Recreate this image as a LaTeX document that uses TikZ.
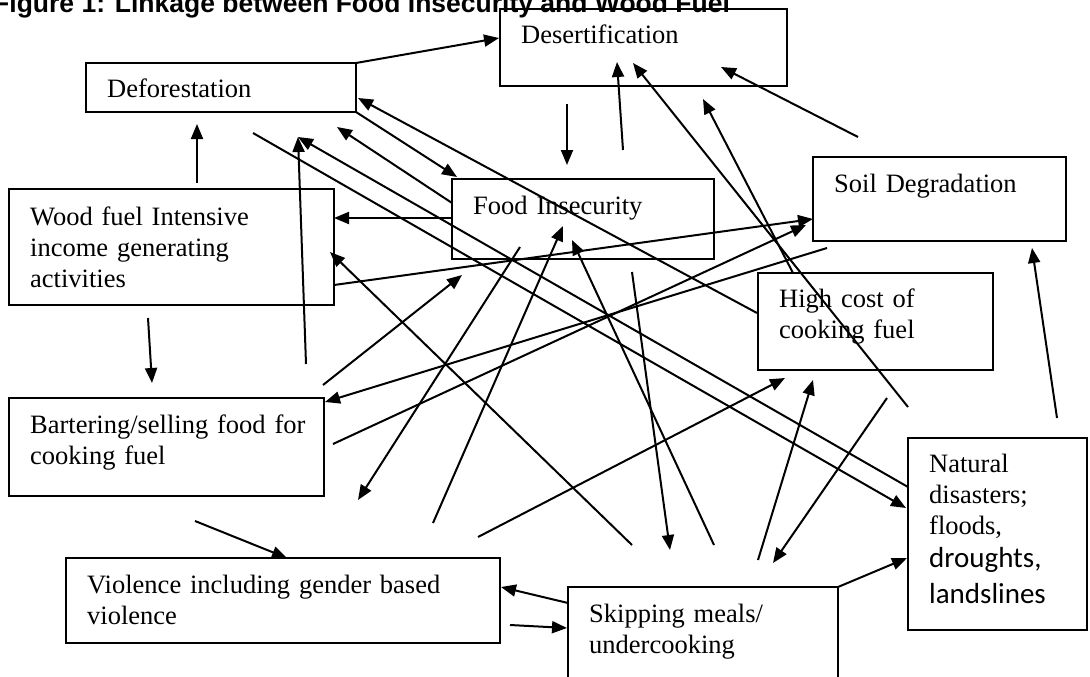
\documentclass[tikz,border=0pt]{standalone}
\usepackage{fontspec}
\setmainfont{Liberation Serif}
\setsansfont{Liberation Sans}
\newfontfamily\calibfont{Carlito}
\usetikzlibrary{arrows.meta}
\begin{document}
\begin{tikzpicture}[x=1pt,y=-1pt,
  box/.style={draw, line width=1.8pt, rectangle, anchor=north west, inner sep=0pt, outer sep=0pt},
  lbl/.style={anchor=base west, inner sep=0pt, text width=400pt, align=left, font=\fontsize{26.5}{31}\selectfont},
  conn/.style={line width=2pt, -{Triangle[length=15pt,width=12pt]}},
  ttl/.style={anchor=base west, inner sep=0pt, font=\fontsize{26.5}{31}\selectfont\sffamily\bfseries}
]
\useasboundingbox (0,0) rectangle (1090,677);
\clip (0,0) rectangle (1090,677);
\fill[white] (0,0) rectangle (1090,677);

% title (cropped at top, as in the reference)
\node[ttl] (title) at (-7,12.5) {Figure 1: Linkage between Food Insecurity and Wood Fuel};

% boxes
\node[box, minimum width=270pt, minimum height=49pt] (def) at (86,63) {};
\node[box, minimum width=287pt, minimum height=77pt] (des) at (500,9) {};
\node[box, minimum width=253pt, minimum height=84pt] (soil) at (813,157) {};
\node[box, minimum width=262pt, minimum height=80pt] (food) at (452,179) {};
\node[box, minimum width=235pt, minimum height=97pt] (high) at (758,273) {};
\node[box, minimum width=325pt, minimum height=116pt] (wood) at (9,189) {};
\node[box, minimum width=315pt, minimum height=98pt] (bart) at (9,398) {};
\node[box, minimum width=434pt, minimum height=85pt] (viol) at (66,558) {};
\node[box, minimum width=270pt, minimum height=133pt] (skip) at (568,587) {};
\node[box, minimum width=179pt, minimum height=192pt] (nat) at (908,438) {};

% texts
\node[lbl] (deft) at (107,98) {Deforestation};
\node[lbl] (dest) at (521,44) {Desertification};
\node[lbl] (soilt) at (834,192) {Soil Degradation};
\node[lbl] (foodt) at (473,214) {Food Insecurity};
\node[lbl] (hight) at (779,307) {High cost of\\cooking fuel};
\node[lbl] (woodt) at (30,225) {Wood fuel Intensive\\income generating\\activities};
\node[lbl] (bartt) at (30,433) {Bartering/selling food for\\cooking fuel};
\node[lbl] (violt) at (87,593) {Violence including gender based\\violence};
\node[lbl] (skipt) at (589,622) {Skipping meals/\\undercooking};
\node[lbl] (natt) at (929,472) {Natural\\disasters;\\floods,\\[2pt]{\calibfont\fontsize{29}{31}\selectfont droughts,}\\[5pt]{\calibfont\fontsize{29}{31}\selectfont landslines}};

% connector end points
\coordinate (c1e) at (499,38);
\coordinate (c2s) at (567,104);  \coordinate (c2e) at (567,165);
\coordinate (c3s) at (623,150);  \coordinate (c3e) at (617,62);
\coordinate (c4s) at (908,407);  \coordinate (c4e) at (633,63);
\coordinate (c5s) at (793,273);  \coordinate (c5e) at (703,99);
\coordinate (c6s) at (858,137);  \coordinate (c6e) at (721,67);
\coordinate (c7s) at (197,183);  \coordinate (c7e) at (197,124);
\coordinate (c8s) at (757,313);  \coordinate (c8e) at (358,98);
\coordinate (c9e) at (457,177);
\coordinate (c10s) at (452,203); \coordinate (c10e) at (337,127);
\coordinate (c11s) at (306,364); \coordinate (c11e) at (298,137);
\coordinate (c12s) at (908,487); \coordinate (c12e) at (298,137);
\coordinate (c13s) at (253,133); \coordinate (c13e) at (906,508);
\coordinate (c14s) at (452,218); \coordinate (c14e) at (334,218);
\coordinate (c15s) at (632,545); \coordinate (c15e) at (330,252);
\coordinate (c16s) at (323,385); \coordinate (c16e) at (462,275);
\coordinate (c17s) at (334,285); \coordinate (c17e) at (813,219);
\coordinate (c18s) at (333,444); \coordinate (c18e) at (806,225);
\coordinate (c19s) at (827,248); \coordinate (c19e) at (325,402);
\coordinate (c20s) at (520,247); \coordinate (c20e) at (358,500);
\coordinate (c21s) at (433,523); \coordinate (c21e) at (563,226);
\coordinate (c22s) at (714,545); \coordinate (c22e) at (572,240);
\coordinate (c23s) at (632,272); \coordinate (c23e) at (670,550);
\coordinate (c24s) at (148,318); \coordinate (c24e) at (152,383);
\coordinate (c25s) at (195,521); \coordinate (c25e) at (287,558);
\coordinate (c26s) at (568,603); \coordinate (c26e) at (501,587);
\coordinate (c27s) at (510,625); \coordinate (c27e) at (567,628);
\coordinate (c28s) at (478,537); \coordinate (c28e) at (785,378);
\coordinate (c29s) at (758,560); \coordinate (c29e) at (813,380);
\coordinate (c30s) at (887,398); \coordinate (c30e) at (773,563);
\coordinate (c31e) at (907,558);
\coordinate (c32s) at (1057,418); \coordinate (c32e) at (1032,248);

% connectors
\draw[conn] (def.north east) -- (c1e);
\draw[conn] (c2s) -- (c2e);
\draw[conn] (c3s) -- (c3e);
\draw[conn] (c4s) -- (c4e);
\draw[conn] (c5s) -- (c5e);
\draw[conn] (c6s) -- (c6e);
\draw[conn] (c7s) -- (c7e);
\draw[conn] (c8s) -- (c8e);
\draw[conn] (def.south east) -- (c9e);
\draw[conn] (c10s) -- (c10e);
\draw[conn] (c11s) -- (c11e);
\draw[conn] (c12s) -- (c12e);
\draw[conn] (c13s) -- (c13e);
\draw[conn] (c14s) -- (c14e);
\draw[conn] (c15s) -- (c15e);
\draw[conn] (c16s) -- (c16e);
\draw[conn] (c17s) -- (c17e);
\draw[conn] (c18s) -- (c18e);
\draw[conn] (c19s) -- (c19e);
\draw[conn] (c20s) -- (c20e);
\draw[conn] (c21s) -- (c21e);
\draw[conn] (c22s) -- (c22e);
\draw[conn] (c23s) -- (c23e);
\draw[conn] (c24s) -- (c24e);
\draw[conn] (c25s) -- (c25e);
\draw[conn] (c26s) -- (c26e);
\draw[conn] (c27s) -- (c27e);
\draw[conn] (c28s) -- (c28e);
\draw[conn] (c29s) -- (c29e);
\draw[conn] (c30s) -- (c30e);
\draw[conn] (skip.north east) -- (c31e);
\draw[conn] (c32s) -- (c32e);
\end{tikzpicture}
\end{document}
